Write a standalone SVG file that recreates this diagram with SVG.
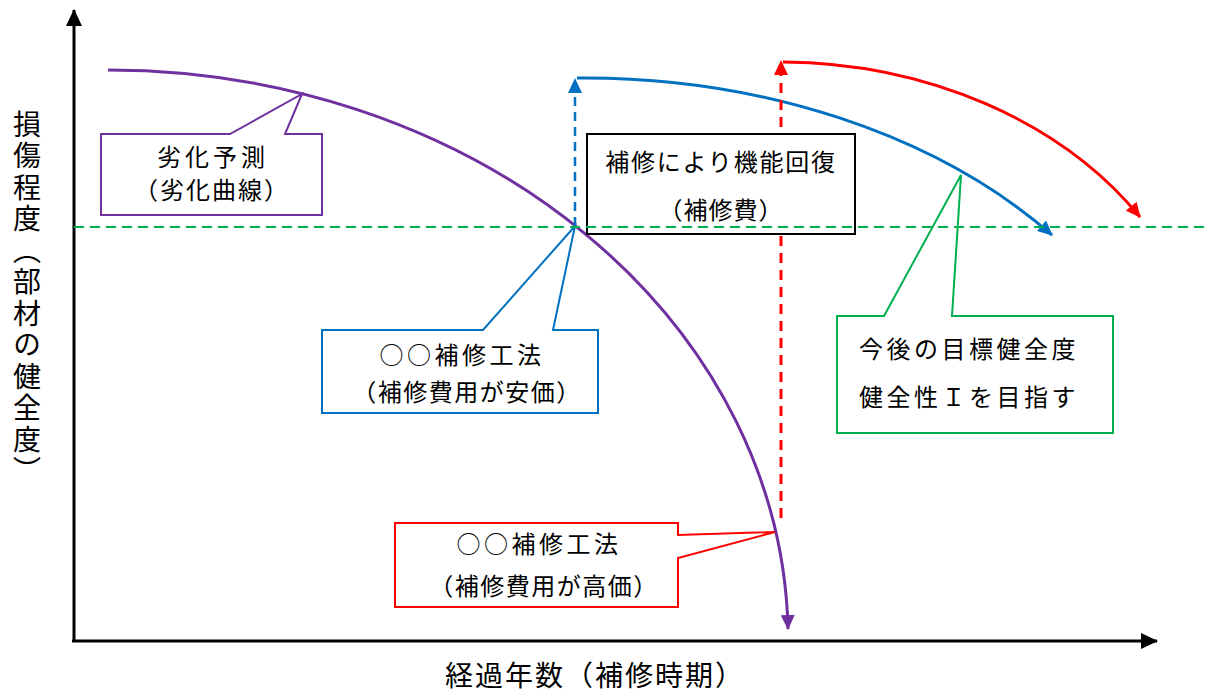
<svg xmlns="http://www.w3.org/2000/svg" width="1208" height="693" viewBox="0 0 1208 693">
<style>
text{font-family:"Noto Sans CJK JP","Noto Sans CJK SC",sans-serif;fill:#000}
.t{font-size:24px;text-anchor:middle}
.box{fill:#fff;stroke-width:2}
</style>
<defs>
<marker id="aK" markerUnits="userSpaceOnUse" markerWidth="18" markerHeight="16" refX="16" refY="8" orient="auto"><path d="M0,0 L17,8 L0,16 z" fill="#000"/></marker>
<marker id="aP" markerUnits="userSpaceOnUse" markerWidth="16" markerHeight="14" refX="14" refY="7" orient="auto"><path d="M0,0 L15,7 L0,14 z" fill="#7030A0"/></marker>
<marker id="aB" markerUnits="userSpaceOnUse" markerWidth="16" markerHeight="14" refX="14" refY="7" orient="auto"><path d="M0,0 L15,7 L0,14 z" fill="#0070C0"/></marker>
<marker id="aR" markerUnits="userSpaceOnUse" markerWidth="16" markerHeight="14" refX="14" refY="7" orient="auto"><path d="M0,0 L15,7 L0,14 z" fill="#FF0000"/></marker>
</defs>
<g id="axes" fill="none" stroke="#000" stroke-width="3">
<line x1="74" y1="642" x2="74" y2="10" marker-end="url(#aK)"/>
<line x1="72" y1="641" x2="1157" y2="641" marker-end="url(#aK)"/>
</g>
<g id="connectors" fill="none">
<path d="M108,70 A680,570 0 0 1 788,629" stroke="#7030A0" stroke-width="3" marker-end="url(#aP)"/>
<line x1="575" y1="226" x2="575" y2="79" stroke="#0070C0" stroke-width="2.5" stroke-dasharray="9,6" marker-end="url(#aB)"/>
<path d="M577,78 A600,420 0 0 1 1052,235" stroke="#0070C0" stroke-width="3" marker-end="url(#aB)"/>
<line x1="781" y1="518" x2="781" y2="61" stroke="#FF0000" stroke-width="3" stroke-dasharray="10,7" marker-end="url(#aR)"/>
<path d="M783,62 A430,340 0 0 1 1140,217" stroke="#FF0000" stroke-width="3" marker-end="url(#aR)"/>
</g>
<g id="node-purple">
<path class="box" stroke="#7030A0" d="M101,134 H230 L302,94 L285,134 H322 V215 H101 Z"/>
<text class="t" x="213" y="166" letter-spacing="4">劣化予測</text>
<text class="t" x="212" y="199" letter-spacing="2">（劣化曲線）</text>
</g>
<g id="node-blue">
<path class="box" stroke="#0070C0" d="M322,330 H483 L575,226 L553,330 H598 V413 H322 Z"/>
<text class="t" x="462" y="364" letter-spacing="3.5">○○補修工法</text>
<text class="t" x="467" y="401" letter-spacing="1.5">（補修費用が安価）</text>
</g>
<g id="node-black">
<rect class="box" stroke="#000" x="587" y="134" width="268" height="100"/>
<text class="t" x="721" y="171" font-size="26" letter-spacing="1.8">補修により機能回復</text>
<text class="t" x="721" y="219" font-size="25" letter-spacing="1">（補修費）</text>
</g>
<g id="node-green">
<path class="box" stroke="#00B050" stroke-width="1.5" d="M837,316 H884 L961,175 L952,316 H1113 V433 H837 Z"/>
<text x="859" y="358" font-size="24" letter-spacing="3.5">今後の目標健全度</text>
<text x="859" y="406" font-size="24" letter-spacing="3.5">健全性Ｉを目指す</text>
</g>
<g id="node-red">
<path class="box" stroke="#FF0000" d="M395,523 H678 V535 L775,532 L678,558 V607 H395 Z"/>
<text class="t" x="539" y="553" letter-spacing="3.5">○○補修工法</text>
<text class="t" x="544" y="595" letter-spacing="1.5">（補修費用が高価）</text>
</g>
<line id="target-line" x1="74" y1="227" x2="1208" y2="227" stroke="#00B050" stroke-width="2" stroke-dasharray="10,6"/>
<g id="labels">
<text x="27" y="110" font-size="28" letter-spacing="3.5" style="writing-mode:vertical-rl">損傷程度（部材の健全度）</text>
<text x="595" y="686" font-size="28" letter-spacing="2" text-anchor="middle">経過年数（補修時期）</text>
</g>
</svg>
